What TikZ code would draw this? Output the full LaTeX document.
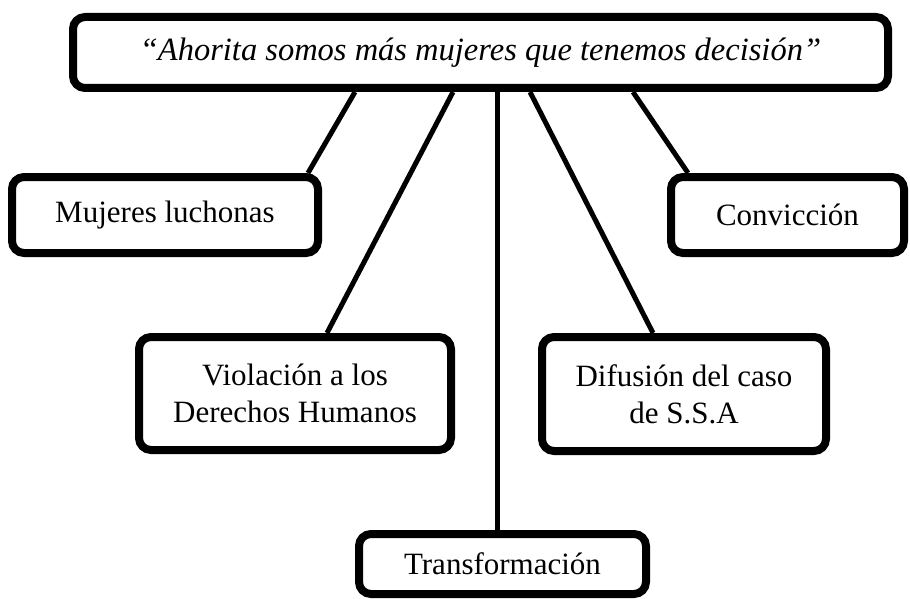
\documentclass[tikz,border=0pt]{standalone}
\usepackage{fontspec}
\setmainfont{Liberation Serif}

\begin{document}
\begin{tikzpicture}[x=1pt, y=-1pt,
    box/.style={draw, line width=8pt, rounded corners=12pt, align=center,
        inner sep=0pt, font=\fontsize{31}{37}\selectfont},
    link/.style={line width=5pt}]
    \useasboundingbox (0,0) rectangle (910,599);
    % Draw the quote box
    \node[box, minimum width=815pt, minimum height=71pt,
        font=\fontsize{32.5}{37}\selectfont\itshape] (quote) at (480.5,52.5)
        {“Ahorita somos más mujeres que tenemos decisión”};
    % Draw the topic boxes
    \node[box, minimum width=306pt, minimum height=76pt] (luch) at (165,215) {Mujeres luchonas};
    \node[box, minimum width=233pt, minimum height=76pt] (conv) at (787.5,215) {Convicción};
    \node[box, minimum width=312pt, minimum height=113pt] (viol) at (295,393.5) {Violación a los\\Derechos Humanos};
    \node[box, minimum width=284pt, minimum height=114pt] (difu) at (684,394) {Difusión del caso\\de S.S.A};
    \node[box, minimum width=287pt, minimum height=60pt] (trans) at (502.5,564) {Transformación};
    % Connect quote to each topic
    \foreach \qx/\child/\cx in {-125.5/luch/143, -27.5/viol/32, 16.5/trans/-5.5, 49.5/difu/-31, 152.5/conv/-99.5} {
        \draw[link] ([xshift=\qx pt]quote.south) -- ([xshift=\cx pt]\child.north);
    }
\end{tikzpicture}
\end{document}
